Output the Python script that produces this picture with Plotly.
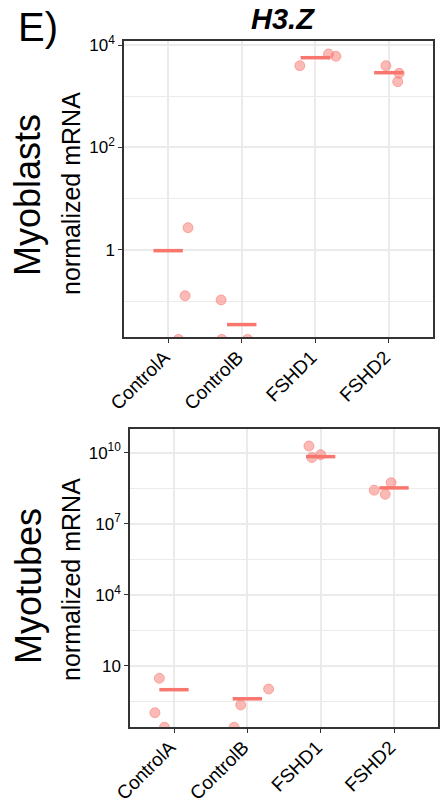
import plotly.graph_objects as go

categories = ["ControlA", "ControlB", "FSHD1", "FSHD2"]

# Myoblasts (top panel)
myoblast_values = [
    [2.72, 0.128, 0.018],
    [0.106, 0.018, 0.018],
    [3945, 6670, 6010],
    [3945, 2800, 1923],
]
myoblast_jitter = [
    [0.27, 0.23, 0.14],
    [-0.28, -0.27, 0.08],
    [-0.21, 0.18, 0.28],
    [-0.04, 0.14, 0.12],
]
myoblast_means = [0.97, 0.035, 5650, 2880]

# Myotubes (bottom panel)
myotube_values = [
    [2.94, 0.103, 0.025],
    [0.025, 0.219, 1.035],
    [1.9e10, 6.2e9, 8.2e9],
    [2.6e8, 1.75e8, 5.4e8],
]
myotube_jitter = [
    [-0.2, -0.26, -0.13],
    [-0.18, -0.09, 0.29],
    [-0.16, -0.12, 0.0],
    [-0.27, -0.12, -0.04],
]
myotube_means = [0.97, 0.40, 6.8e9, 3.25e8]

top_ticks = [1, 100, 1e4]
top_ticktext = ["1", "10<sup>2</sup>", "10<sup>4</sup>"]
top_minor = [0.1, 10, 1000]
bot_ticks = [10, 1e4, 1e7, 1e10]
bot_ticktext = ["10", "10<sup>4</sup>", "10<sup>7</sup>", "10<sup>10</sup>"]
bot_minor = [10 ** -0.5, 10 ** 2.5, 10 ** 5.5, 10 ** 8.5]

W, H = 441, 804
FONT = "Liberation Sans, Arial, Helvetica, sans-serif"
PT_FILL = "rgba(248,118,109,0.5)"
LINE_C = "#F8766D"

fig = go.Figure()


def add_panel(values, jitter, means, xa, ya):
    xs, ys = [], []
    for i, (vals, jit) in enumerate(zip(values, jitter)):
        for v, j in zip(vals, jit):
            xs.append(i + 1 + j)
            ys.append(v)
    fig.add_trace(go.Scatter(
        x=xs, y=ys, mode="markers", xaxis=xa, yaxis=ya,
        marker=dict(size=10, color=PT_FILL,
                    line=dict(color="rgba(248,118,109,0.55)", width=1)),
        showlegend=False, hoverinfo="skip"))
    lx, ly = [], []
    for i, m in enumerate(means):
        lx += [i + 1 - 0.2, i + 1 + 0.2, None]
        ly += [m, m, None]
    fig.add_trace(go.Scatter(
        x=lx, y=ly, mode="lines", xaxis=xa, yaxis=ya,
        line=dict(color=LINE_C, width=3.5),
        showlegend=False, hoverinfo="skip"))


add_panel(myoblast_values, myoblast_jitter, myoblast_means, "x", "y")
add_panel(myotube_values, myotube_jitter, myotube_means, "x2", "y2")

common_axis = dict(
    automargin=False,
    showline=True, linecolor="#333333", linewidth=1.5, mirror=True,
    ticks="outside", ticklen=4, tickwidth=1.2, tickcolor="#333333",
    showgrid=True, gridcolor="#EBEBEB", gridwidth=1.5, zeroline=False,
    tickfont=dict(family=FONT, size=17, color="black"),
)


def xaxis_def(domain, anchor):
    d = dict(common_axis)
    d.update(domain=domain, anchor=anchor, range=[0.4, 4.6],
             tickmode="array", tickvals=[1, 2, 3, 4], ticktext=categories,
             tickangle=-45, tickfont=dict(family=FONT, size=19, color="black"),
             ticklabelstandoff=-4, ticklabelshift=-4)
    return d


def yaxis_def(domain, anchor, rng, tv, tt, minor):
    d = dict(common_axis)
    d.update(domain=domain, anchor=anchor, type="log", range=rng,
             tickmode="array", tickvals=tv, ticktext=tt,
             minor=dict(tickvals=minor, showgrid=True, gridcolor="#EBEBEB",
                        gridwidth=1, ticks=""))
    return d


fig.update_layout(
    width=W, height=H,
    margin=dict(l=0, r=0, t=0, b=0, autoexpand=False),
    paper_bgcolor="white", plot_bgcolor="white",
    font=dict(family=FONT, color="black"),
    xaxis=xaxis_def([124 / W, 433 / W], "y"),
    yaxis=yaxis_def([1 - 337 / H, 1 - 41 / H], "x", [-1.698, 4.078],
                    top_ticks, top_ticktext, top_minor),
    xaxis2=xaxis_def([130 / W, 438 / W], "y2"),
    yaxis2=yaxis_def([1 - 727 / H, 1 - 429 / H], "x2", [-1.59, 11.0],
                     bot_ticks, bot_ticktext, bot_minor),
)

ann = [
    dict(text="E)", x=38 / W, y=1 - 27 / H, size=40, angle=0),
    dict(text="<b><i>H3.Z</i></b>", x=283 / W, y=1 - 19 / H, size=29, angle=0),
    dict(text="Myoblasts", x=28 / W, y=1 - 195 / H, size=36, angle=-90),
    dict(text="normalized mRNA", x=71 / W, y=1 - 194 / H, size=25, angle=-90),
    dict(text="Myotubes", x=28 / W, y=1 - 586 / H, size=36, angle=-90),
    dict(text="normalized mRNA", x=71 / W, y=1 - 580 / H, size=25, angle=-90),
]
for a in ann:
    fig.add_annotation(text=a["text"], x=a["x"], y=a["y"], xref="paper", yref="paper",
                       xanchor="center", yanchor="middle", showarrow=False,
                       textangle=a["angle"], font=dict(family=FONT, size=a["size"], color="black"))

fig.write_html("out.html", config={"displayModeBar": False})

# remove default page margin so the figure sits at the window's top-left corner
with open("out.html", "r", encoding="utf-8") as f:
    html = f.read()
html = html.replace("<head>", "<head><style>html,body{margin:0;padding:0;overflow:hidden;}</style>", 1)
with open("out.html", "w", encoding="utf-8") as f:
    f.write(html)
